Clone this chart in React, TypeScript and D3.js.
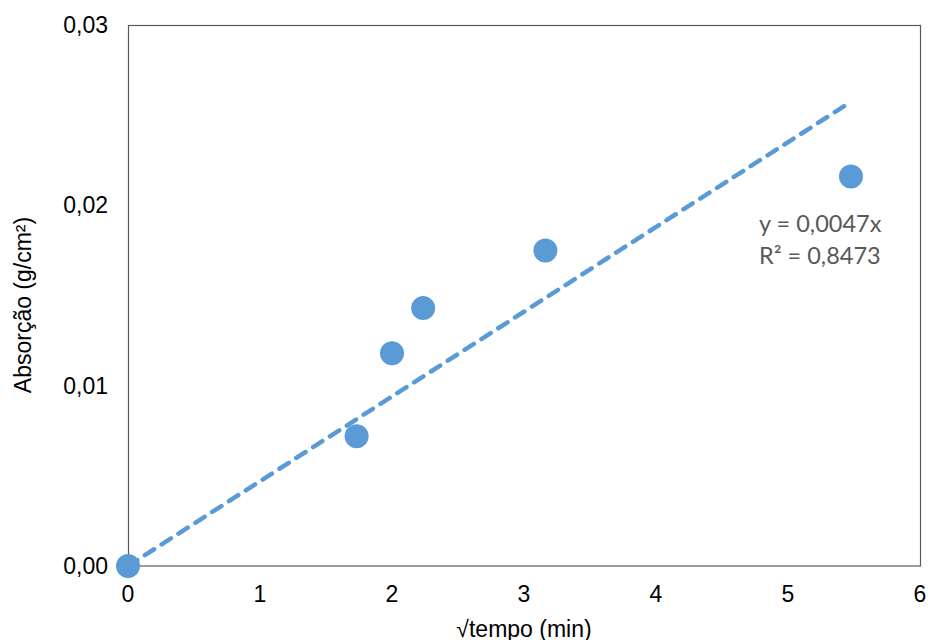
import React from 'react'
import * as d3 from 'd3'

// √tempo (min) e absorção (g/cm²)
const sqrtTime = [0, 1.732, 2, 2.236, 3.162, 5.477]
const absorption = [0, 0.0072, 0.0118, 0.0143, 0.0175, 0.0216]
const xTicks = [0, 1, 2, 3, 4, 5, 6]
const yTicks = [0, 0.01, 0.02, 0.03]
const slope = 0.0047
const r2Label = 'R² = 0,8473'

const W = 928, H = 640
const margin = {top: 25, right: 8, bottom: 74, left: 128}

export default function App() {
  const width = W - margin.left - margin.right
  const height = H - margin.top - margin.bottom

  const x = d3.scaleLinear().domain([0, 6]).range([0, width])
  const y = d3.scaleLinear().domain([0, 0.03]).range([height, 0])

  const fmtY = (v: number) => v.toFixed(2).replace('.', ',')
  const trend = d3.line<number>()
    .x(d => x(d))
    .y(d => y(slope * d))([0, d3.max(sqrtTime) as number])

  const font = 'Liberation Sans, Arial, sans-serif'

  return (
    <svg width={W} height={H} style={{position: 'absolute', left: 0, top: 0}}>
      <rect width={W} height={H} fill="#fff" />
      <g transform={`translate(${margin.left},${margin.top})`}>
        <rect x={0.5} y={0.5} width={width} height={height - 0.5} fill="none" stroke="#595959" strokeWidth={1.2} />

        {yTicks.map(t => (
          <text key={t} x={-20} y={y(t)} dy="0.35em" textAnchor="end"
                fontFamily={font} fontSize={23} fill="#000">{fmtY(t)}</text>
        ))}
        {xTicks.map(t => (
          <text key={t} x={x(t)} y={height + 36} textAnchor="middle"
                fontFamily={font} fontSize={23} fill="#000">{t}</text>
        ))}

        <path d={trend || ''} fill="none" stroke="#5B9BD5" strokeWidth={4.5}
              strokeDasharray="11 9" strokeLinecap="round" />

        {sqrtTime.map((t, i) => (
          <circle key={i} cx={x(t)} cy={y(absorption[i])} r={12} fill="#5B9BD5" />
        ))}

        <text x={631} y={207} fontFamily="Lato, Open Sans, sans-serif" fontSize={23.5} fill="#595959">
          y = {String(slope).replace('.', ',')}x
        </text>
        <text x={631} y={239} fontFamily="Lato, Open Sans, sans-serif" fontSize={23.5} fill="#595959">
          {r2Label}
        </text>

        <text x={width / 2} y={height + 71} textAnchor="middle"
              fontFamily={font} fontSize={23} fill="#000">√tempo (min)</text>
        <text transform={`translate(${-97},${280}) rotate(-90)`} textAnchor="middle"
              fontFamily={font} fontSize={23} fill="#000">Absorção (g/cm²)</text>
      </g>
    </svg>
  )
}
